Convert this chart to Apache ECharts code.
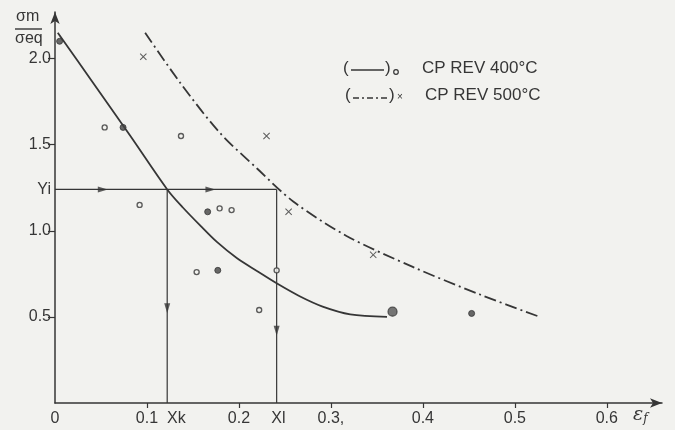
<!DOCTYPE html>
<html>
<head>
<meta charset="utf-8">
<script src="https://cdn.jsdelivr.net/npm/echarts@6/dist/echarts.min.js"></script>
<style>
  html, body { margin: 0; padding: 0; background: #f2f2ef; }
  #chart { width: 675px; height: 430px; }
</style>
</head>
<body>
<div id="chart"></div>
<script>
// ---- data ----
const Yi = 1.24;
const Xk = 0.122;
const Xl = 0.241;

const curve400 = [[0.003,2.15],[0.04,1.87],[0.082,1.55],[0.122,1.24],[0.139,1.135],[0.158,1.03],
  [0.176,0.935],[0.198,0.84],[0.220,0.765],[0.241,0.695],[0.266,0.62],[0.291,0.56],[0.321,0.515],[0.361,0.50]];
const curve500 = [[0.098,2.15],[0.136,1.86],[0.179,1.57],[0.220,1.36],[0.259,1.17],[0.317,0.97],
  [0.389,0.79],[0.462,0.63],[0.527,0.50]];

const open400 = [[0.054,1.60],[0.137,1.55],[0.092,1.15],[0.154,0.76],[0.179,1.13],[0.192,1.12],[0.222,0.54],[0.241,0.77]];
const filled400 = [[0.005,2.10],[0.074,1.60],[0.166,1.11],[0.177,0.77],[0.453,0.52]];
const bigDot400 = [[0.367,0.53]];
const cross500 = [[0.096,2.01],[0.230,1.55],[0.254,1.11],[0.346,0.86]];

const arrowsRight = [[0.052,Yi],[0.169,Yi]];
const arrowsDown = [[Xk,0.55],[Xl,0.42]];

const xTickValues = [0.1,0.2,0.3,0.4,0.5,0.6];
const xLabelValues = [0,0.1,0.132,0.2,0.243,0.3,0.4,0.5,0.6];
const xLabelTexts = ['0','0.1','Xk','0.2','Xl','0.3,','0.4','0.5','0.6'];
const yTickValues = [0.5,1.0,1.5,2.0];
const yLabelValues = [0.5,1.0,Yi,1.5,2.0];
const yLabelTexts = ['0.5','1.0','Yi','1.5','2.0'];

const legendTexts = ['CP REV 400°C','CP REV 500°C'];

// ---- styling ----
const ink = '#363636';
const bg = '#f2f2ef';
const font = 'Liberation Sans, Arial, sans-serif';
const dashDot = [12,4,2,4];

function lookup(values, texts, v) {
  for (let i = 0; i < values.length; i++) if (Math.abs(values[i] - v) < 1e-6) return texts[i];
  return '';
}

const chart = echarts.init(document.getElementById('chart'), null, {renderer: 'canvas'});

const guideStyle = {color: ink, width: 1.2};
function guide(data) {
  return {type:'line', data: data, symbol:'none', silent:true, lineStyle: guideStyle, z: 2};
}

const option = {
  backgroundColor: bg,
  animation: false,
  grid: {left: 55, right: 13, top: 12, bottom: 27},
  xAxis: {
    type: 'value', min: 0, max: 0.66,
    axisLine: {show: true, symbol: ['none','arrow'], symbolSize: [7,12], lineStyle: {color: ink, width: 1.5}},
    axisTick: {show: true, length: 5, customValues: xTickValues, lineStyle: {color: ink, width: 1.2}},
    axisLabel: {customValues: xLabelValues, formatter: v => lookup(xLabelValues, xLabelTexts, v),
      color: ink, fontSize: 16, fontFamily: font, margin: 8},
    splitLine: {show: false},
    name: '{e|ε}{f|f}', nameLocation: 'end', nameGap: -29,
    nameTextStyle: {color: ink, verticalAlign: 'top', align: 'left', padding: [2,0,0,0],
      rich: {
        e: {fontSize: 19, fontFamily: 'DejaVu Serif, serif', fontStyle: 'italic', color: ink},
        f: {fontSize: 12, fontFamily: 'DejaVu Serif, serif', fontStyle: 'italic', color: ink, padding: [8,0,0,0]}
      }}
  },
  yAxis: {
    type: 'value', min: 0, max: 2.27,
    axisLine: {show: true, symbol: ['none','arrow'], symbolSize: [7,12], lineStyle: {color: ink, width: 1.5}},
    axisTick: {show: true, length: 7, customValues: yTickValues, lineStyle: {color: ink, width: 1.2}},
    axisLabel: {customValues: yLabelValues, formatter: v => lookup(yLabelValues, yLabelTexts, v),
      color: ink, fontSize: 16, fontFamily: font, margin: 4},
    splitLine: {show: false}
  },
  series: [
    guide([[0,Yi],[Xl,Yi]]),
    guide([[Xk,Yi],[Xk,0]]),
    guide([[Xl,Yi],[Xl,0]]),
    {type:'scatter', data: arrowsRight, symbol:'triangle', symbolSize:[6,10], symbolRotate:-90,
      itemStyle:{color: ink}, z: 3},
    {type:'scatter', data: arrowsDown, symbol:'triangle', symbolSize:[6,10], symbolRotate:180,
      itemStyle:{color: ink}, z: 3},
    {name:'CP REV 400°C', type:'line', data: curve400, smooth: 0.3, symbol:'none',
      lineStyle:{color: ink, width: 1.8}, z: 4},
    {name:'CP REV 500°C', type:'line', data: curve500, smooth: 0.3, symbol:'none',
      lineStyle:{color: ink, width: 1.8, type: dashDot}, z: 4},
    {type:'scatter', data: open400, symbol:'circle', symbolSize: 5,
      itemStyle:{color: bg, borderColor: ink, borderWidth: 1.4}, z: 5},
    {type:'scatter', data: filled400, symbol:'circle', symbolSize: 6,
      itemStyle:{color: '#444', borderColor: ink, borderWidth: 1}, z: 5},
    {type:'scatter', data: bigDot400, symbol:'circle', symbolSize: 9,
      itemStyle:{color: '#555', borderColor: ink, borderWidth: 1.2}, z: 5},
    {type:'scatter', data: cross500, symbolSize: 7,
      symbol:'path://M1,0L5,4L9,0L10,1L6,5L10,9L9,10L5,6L1,10L0,9L4,5L0,1Z',
      itemStyle:{color: ink}, z: 5}
  ],
  graphic: [
    // y-axis name sigma_m / sigma_eq
    {type:'text', left: 16, top: 9, style:{text:'σm', fill: ink, font: '16px ' + font}},
    {type:'line', shape:{x1: 15, y1: 29, x2: 42, y2: 29}, style:{stroke: ink, lineWidth: 1.4}},
    {type:'text', left: 15, top: 31, style:{text:'σeq', fill: ink, font: '16px ' + font}},
    // legend row 1
    {type:'text', left: 343, top: 60, style:{text:'(', fill: ink, font: '17px ' + font}},
    {type:'line', shape:{x1: 351, y1: 70, x2: 384, y2: 70}, style:{stroke: ink, lineWidth: 1.6}},
    {type:'text', left: 385, top: 60, style:{text:')', fill: ink, font: '17px ' + font}},
    {type:'circle', shape:{cx: 396, cy: 72, r: 2.3}, style:{fill: bg, stroke: ink, lineWidth: 1.2}},
    {type:'text', left: 422, top: 60, style:{text: legendTexts[0], fill: ink, font: '17px ' + font}},
    // legend row 2
    {type:'text', left: 345, top: 87, style:{text:'(', fill: ink, font: '17px ' + font}},
    {type:'line', shape:{x1: 353, y1: 98, x2: 388, y2: 98}, style:{stroke: ink, lineWidth: 1.4, lineDash:[6,3,2,3]}},
    {type:'text', left: 389, top: 87, style:{text:')', fill: ink, font: '17px ' + font}},
    {type:'text', left: 397, top: 92, style:{text:'×', fill: ink, font: '10px ' + font}},
    {type:'text', left: 425, top: 87, style:{text: legendTexts[1], fill: ink, font: '17px ' + font}}
  ]
};

chart.setOption(option);
</script>
</body>
</html>
